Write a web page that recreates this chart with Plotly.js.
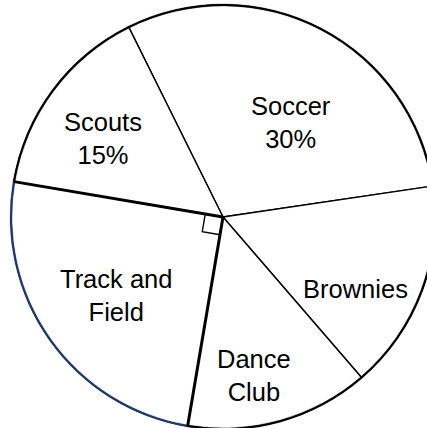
<!DOCTYPE html>
<html>
<head>
<meta charset="utf-8">
<script src="https://cdn.plot.ly/plotly-3.0.1.min.js"></script>
<style>
  html, body { margin: 0; padding: 0; overflow: hidden; background: #ffffff; }
  #chart { width: 446px; height: 434px; }
</style>
</head>
<body>
<div id="chart"></div>
<script>
// Club membership shares, listed clockwise from the upper boundary line
const categories   = ['Soccer', 'Brownies', 'Dance Club', 'Track and Field', 'Scouts'];
const sliceLabels  = ['Soccer', 'Brownies', 'Dance<br>Club', 'Track and<br>Field', 'Scouts'];
const percentages  = [30, 16, 14, 25, 15];
const showPercent  = [true, false, false, false, true];

// ---- geometry of the drawing ----
const W = 446, H = 434;           // plot box (wider than the window, so the circle runs off the edge)
const cx = W / 2, cy = H / 2;     // pie centre in pixels
const R = 212;                    // pie radius in pixels
const startAngle = -26.4;         // first boundary, degrees clockwise from 12 o'clock
const navy = '#1f3864';
const highlighted = 'Track and Field';

// text centres (pixels) for each slice label
const labelPos = {
  'Soccer':          [291, 122],
  'Brownies':        [355, 289],
  'Dance Club':      [254, 375],
  'Track and Field': [116, 295],
  'Scouts':          [103, 138]
};

const toPaper = (x, y) => [x / W, 1 - y / H];
const pointAt = (bearingDeg, r) => {
  const a = bearingDeg * Math.PI / 180;
  return [cx + r * Math.sin(a), cy - r * Math.cos(a)];
};
const domainFor = (r) => ({ x: [0, 1], y: [(cy - r) / H, (cy + r) / H] });

// white slices with thin black dividers
const slices = {
  type: 'pie',
  labels: categories,
  values: percentages,
  sort: false,
  direction: 'clockwise',
  rotation: startAngle,
  textinfo: 'none',
  hoverinfo: 'label+percent',
  showlegend: false,
  domain: domainFor(R),
  marker: {
    colors: categories.map(() => '#ffffff'),
    line: { color: '#000000', width: 1.4 }
  }
};

// outer rim: a thin ring, dark blue along the highlighted slice
const rim = {
  type: 'pie',
  labels: categories,
  values: percentages,
  sort: false,
  direction: 'clockwise',
  rotation: startAngle,
  hole: (R - 1) / (R + 1),
  textinfo: 'none',
  hoverinfo: 'skip',
  showlegend: false,
  domain: domainFor(R + 1),
  marker: {
    colors: categories.map(c => c === highlighted ? navy : '#000000'),
    line: { color: categories.map(c => c === highlighted ? navy : '#000000'), width: 0.3 }
  }
};

// boundary bearings of the highlighted slice, from the cumulative shares
const total = percentages.reduce((s, v) => s + v, 0);
const hi = categories.indexOf(highlighted);
const before = percentages.slice(0, hi).reduce((s, v) => s + v, 0);
const bStart = startAngle + 360 * before / total;
const bEnd = startAngle + 360 * (before + percentages[hi]) / total;

const shapes = [];
// heavier dividers on both sides of the highlighted slice
[bStart, bEnd].forEach(b => {
  const [x1, y1] = toPaper(...pointAt(b, R));
  const [x0, y0] = toPaper(cx, cy);
  shapes.push({ type: 'line', xref: 'paper', yref: 'paper', x0, y0, x1, y1,
                line: { color: '#000000', width: 3 } });
});
// right-angle marker at the centre
const side = 18;
const p1 = pointAt(bEnd, side);
const p2 = pointAt(bStart, side);
const p3 = [p1[0] + p2[0] - cx, p1[1] + p2[1] - cy];
const sq = [p1, p3, p2].map(p => toPaper(...p));
shapes.push({
  type: 'path', xref: 'paper', yref: 'paper',
  path: `M ${sq[0][0]} ${sq[0][1]} L ${sq[1][0]} ${sq[1][1]} L ${sq[2][0]} ${sq[2][1]}`,
  line: { color: '#000000', width: 1.4 }
});

// slice labels
const annotations = categories.map((c, i) => {
  const [x, y] = toPaper(...labelPos[c]);
  return {
    xref: 'paper', yref: 'paper', x, y,
    xanchor: 'center', yanchor: 'middle', showarrow: false,
    text: sliceLabels[i] + (showPercent[i] ? '<br>' + percentages[i] + '%' : ''),
    font: { family: 'Liberation Sans, Arial, sans-serif', size: 25.5, color: '#000000' }
  };
});

const layout = {
  width: W, height: H,
  margin: { l: 0, r: 0, t: 0, b: 0 },
  paper_bgcolor: '#ffffff',
  plot_bgcolor: '#ffffff',
  shapes, annotations,
  showlegend: false
};

Plotly.newPlot('chart', [slices, rim], layout, { staticPlot: true, displayModeBar: false });
</script>
</body>
</html>
